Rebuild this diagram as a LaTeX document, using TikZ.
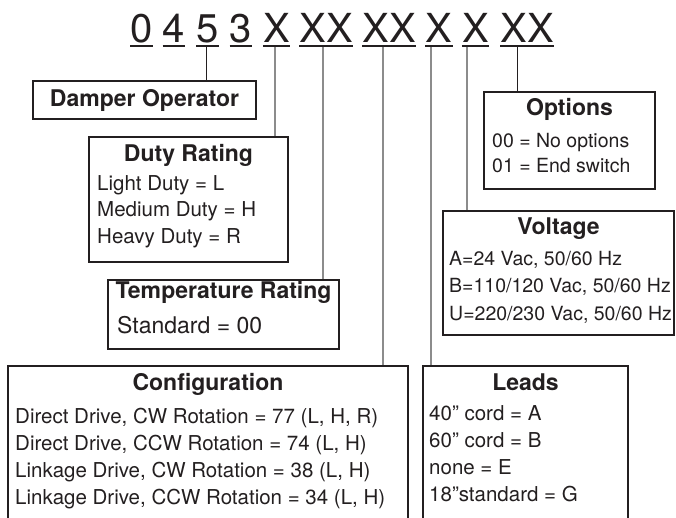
\documentclass[tikz,border=0pt]{standalone}
\usepackage{fontspec}
\setmainfont{TeX Gyre Heros}
\usepackage{tikz}
\usetikzlibrary{positioning}
\usepackage{xcolor}
\definecolor{ink}{HTML}{231F20}
\definecolor{tickgray}{HTML}{8C8C8C}

\begin{document}
\begin{tikzpicture}[
  x=1pt, y=-1pt,
  digit/.style={font=\fontsize{40}{40}\selectfont, text=ink, inner sep=0pt, anchor=base},
  uline/.style={draw=ink, line width=2pt},
  panel/.style={draw=ink, line width=2pt, inner sep=0pt, anchor=north west},
  headfont/.style={font=\fontsize{23}{27}\selectfont\bfseries, text=ink},
  head/.style={headfont, inner sep=0pt, anchor=base},
  items/.style={font=\fontsize{20.5}{27}\selectfont, text=ink, inner sep=0pt, align=left, anchor=base west},
  tick/.style={draw=ink, line width=1pt},
  graytick/.style={draw=tickgray, line width=1.5pt}
]
\clip (0,0) rectangle (676,517);

% part number
\node[digit] (n0) at (141.5,42) {0};
\node[digit] (n4) at (174,42) {4};
\node[digit] (n5) at (207.5,42) {5};
\node[digit] (n3) at (241,42) {3};
\node[digit] (nDuty) at (276.5,42) {X};
\node[digit] (nTemp) at (326,42) {XX};
\node[digit] (nConf) at (389,42) {XX};
\node[digit] (nLead) at (439,42) {X};
\node[digit] (nVolt) at (475.5,42) {X};
\node[digit] (nOpt) at (527,42) {XX};
\foreach \n in {n0,n4,n5,n3,nDuty,nTemp,nConf,nLead,nVolt,nOpt}
  \draw[uline] ([yshift=-4pt]\n.base west) -- ([yshift=-4pt]\n.base east);

% boxes (item lists are placed by their last baseline)
\node[panel, headfont, minimum width=223pt, minimum height=38pt] (damper) at (32,80) {Damper Operator};

\node[panel, minimum width=199pt, minimum height=125pt] (duty) at (88,136) {};
\node[head] (dutyT) at ([yshift=-25pt]duty.north) {Duty Rating};
\node[items, font=\fontsize{20.5}{26.5}\selectfont] (dutyL) at (97,243) {Light Duty = L\\Medium Duty = H\\Heavy Duty = R};

\node[panel, minimum width=231pt, minimum height=69pt] (temp) at (107,279) {};
\node[head] (tempT) at ([yshift=-19pt]temp.north) {Temperature Rating};
\node[items, font=\fontsize{23}{27}\selectfont] (tempL) at (117,333) {Standard = 00};

\node[panel, minimum width=400pt, minimum height=200pt] (conf) at (7,365) {};
\node[head] (confT) at ([yshift=-25pt]conf.north) {Configuration};
\node[items] (confL) at (15,504) {Direct Drive, CW Rotation = 77 (L, H, R)\\Direct Drive, CCW Rotation = 74 (L, H)\\Linkage Drive, CW Rotation = 38 (L, H)\\Linkage Drive, CCW Rotation = 34 (L, H)};

\node[panel, minimum width=205pt, minimum height=200pt] (lead) at (422,365) {};
\node[head] (leadT) at ([yshift=-25pt]lead.north) {Leads};
\node[items] (leadL) at (429,501) {40” cord = A\\60” cord = B\\none = E\\18”standard = G};

\node[panel, minimum width=231pt, minimum height=124pt] (volt) at (442,210) {};
\node[head] (voltT) at ([yshift=-24pt]volt.north) {Voltage};
\node[items, font=\fontsize{19.5}{27.5}\selectfont] (voltL) at (449,320) {A=24 Vac, 50/60 Hz\\B=110/120 Vac, 50/60 Hz\\U=220/230 Vac, 50/60 Hz};

\node[panel, minimum width=171pt, minimum height=97pt] (opt) at (483,91) {};
\node[head] (optT) at ([yshift=-24pt]opt.north) {Options};
\node[items, font=\fontsize{19.5}{25}\selectfont] (optL) at (492,172) {00 = No options\\01 = End switch};

% leader lines
\coordinate (t5) at ([xshift=-1.5pt,yshift=-5pt]n5.base);
\coordinate (tDuty) at ([xshift=-1.5pt,yshift=-5pt]nDuty.base);
\coordinate (tTemp) at ([xshift=-3pt,yshift=-5pt]nTemp.base);
\coordinate (tConf) at ([xshift=-6pt,yshift=-5pt]nConf.base);
\coordinate (tLead) at ([xshift=-8pt,yshift=-5pt]nLead.base);
\coordinate (tVolt) at ([xshift=-8.5pt,yshift=-5pt]nVolt.base);
\coordinate (tOpt) at ([xshift=-10pt,yshift=-5pt]nOpt.base);

\draw[tick] (t5) -- (t5 |- damper.north);
\draw[graytick] (tDuty) -- (tDuty |- duty.north);
\draw[graytick] (tTemp) -- (tTemp |- temp.north);
\draw[graytick] (tConf) -- (tConf |- conf.north);
\draw[graytick] (tLead) -- (tLead |- lead.north);
\draw[graytick] (tVolt) -- (tVolt |- volt.north);
\draw[tick] (tOpt) -- (tOpt |- opt.north);

\end{tikzpicture}
\end{document}
